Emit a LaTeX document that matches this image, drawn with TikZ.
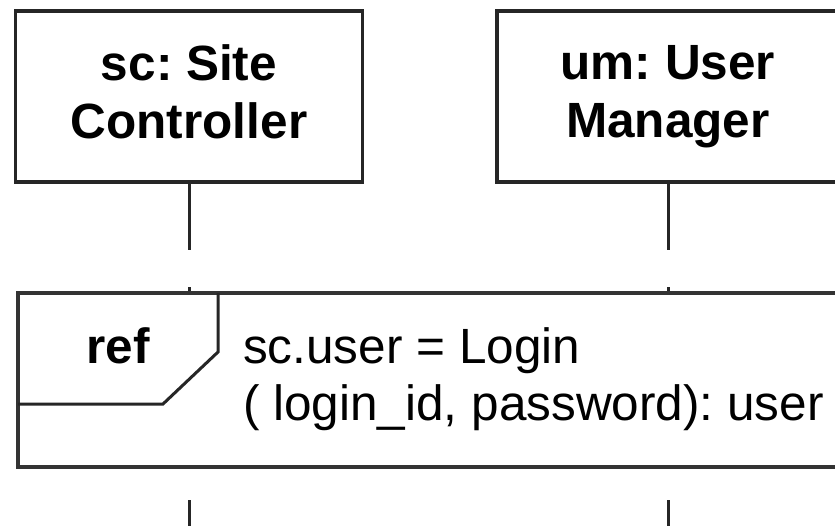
\documentclass[tikz,border=0pt]{standalone}
\usepackage{fontspec}
\setmainfont{Liberation Sans}
\frenchspacing
\begin{document}
\begin{tikzpicture}[x=1pt,y=-1pt,
  obj/.style={draw=black!85, line width=3.5pt, fill=white, minimum width=347pt, minimum height=171pt,
    inner sep=0pt, align=center, font=\fontsize{49.5}{58}\selectfont\bfseries},
  frm/.style={draw=black!80, line width=3.5pt, minimum width=822pt, minimum height=174pt, inner sep=0pt},
  lifeline/.style={draw=black!85, line width=3pt},
  lbl/.style={inner sep=0pt, font=\fontsize{49.5}{58}\selectfont}]
\useasboundingbox (0,0) rectangle (835,525);
\clip (0,0) rectangle (835,525);
\fill[white] (0,0) rectangle (835,525);
\node[obj] (sc) at (189,96.5) {sc: Site\vphantom{g}\\Controller\vphantom{g}};
\node[obj, minimum width=342pt] (um) at (668,96.5) {um: User\vphantom{g}\\Manager};
\node[frm] (ref) at (429,380) {};
\coordinate (sc1) at (189,250);
\coordinate (sc2) at (189,287);
\coordinate (sc3) at (189,500);
\coordinate (sc4) at (189,530);
\coordinate (um1) at (668,250);
\coordinate (um2) at (668,287);
\coordinate (um3) at (668,500);
\coordinate (um4) at (668,530);
\draw[lifeline] (sc.south) -- (sc1);
\draw[lifeline] (sc2) -- (sc2 |- ref.north);
\draw[lifeline] (sc3) -- (sc4);
\draw[lifeline] (um.south) -- (um1);
\draw[lifeline] (um2) -- (um2 |- ref.north);
\draw[lifeline] (um3) -- (um4);
\coordinate (t1) at (218,293);
\coordinate (t2) at (218,352);
\coordinate (t3) at (163,404);
\coordinate (t4) at (18,404);
\draw[draw=black!85, line width=3pt, line join=miter] (t1) -- (t2) -- (t3) -- (t4);
\node[lbl, font=\fontsize{49.5}{58}\selectfont\bfseries, anchor=base] (reflbl) at (118,363) {ref};
\node[lbl, anchor=base west] (txt1) at (243,363) {sc.user = Login};
\node[lbl, anchor=base west] (txt2) at (243,420) {( login\_id, password): user};
\end{tikzpicture}
\end{document}
